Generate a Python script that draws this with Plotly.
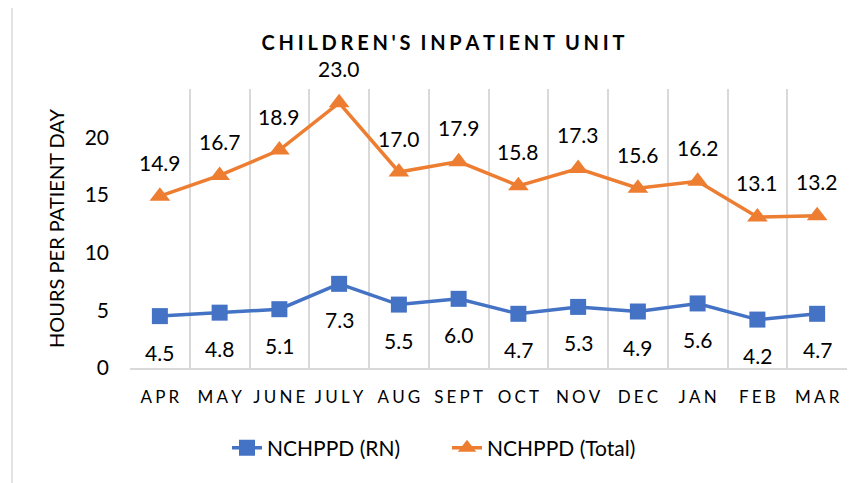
import plotly.graph_objects as go

months = ["APR", "MAY", "JUNE", "JULY", "AUG", "SEPT", "OCT", "NOV", "DEC", "JAN", "FEB", "MAR"]
rn = [4.5, 4.8, 5.1, 7.3, 5.5, 6.0, 4.7, 5.3, 4.9, 5.6, 4.2, 4.7]
total = [14.9, 16.7, 18.9, 23.0, 17.0, 17.9, 15.8, 17.3, 15.6, 16.2, 13.1, 13.2]
y_ticks = [0, 5, 10, 15, 20]

FONT = "Lato, Carlito, 'Open Sans', sans-serif"
GAP = "\u2009\u200a"

def spaced(s, sep=GAP):
    return sep.join(list(s))

tick_text = [spaced(m) for m in months]

BLUE = "#4472C4"
ORANGE = "#ED7D31"

fig = go.Figure()
fig.add_trace(go.Scatter(
    x=months, y=rn, mode="lines+markers", name="NCHPPD (RN)",
    line=dict(color=BLUE, width=3.5),
    marker=dict(symbol="square", size=16, color=BLUE),
))
fig.add_trace(go.Scatter(
    x=months, y=total, mode="lines+markers", name="NCHPPD (Total)",
    line=dict(color=ORANGE, width=3.5),
    marker=dict(symbol="triangle-up", size=18, color=ORANGE),
))

annotations = []
for m, v in zip(months, total):
    annotations.append(dict(x=m, y=v, text=f"{v:.1f}", showarrow=False,
                            yshift=34, font=dict(family=FONT, size=21, color="#000")))
for m, v in zip(months, rn):
    annotations.append(dict(x=m, y=v, text=f"{v:.1f}", showarrow=False,
                            yshift=-36, font=dict(family=FONT, size=21, color="#000")))

# page body has an 8px margin; target plot area in screenshot: x 130..847, y 89..368
OFF = 8
W, H = 865, 483
L = 130 - OFF
T = 89 - OFF
pw, ph = 717, 279
R = W - L - pw
B = H - T - ph

def px_x(x):
    return (x - OFF - L) / pw

def px_y(y):
    return (T + ph - (y - OFF)) / ph

def cx(x):
    return (x - OFF) / W

def cy(y):
    return 1 - (y - OFF) / H

shapes = [dict(type="rect", xref="paper", yref="paper",
               x0=px_x(12), x1=px_x(880), y0=px_y(500), y1=px_y(7),
               line=dict(color="#D9D9D9", width=1.5), fillcolor="rgba(0,0,0,0)", layer="below")]

fig.update_layout(
    width=W, height=H,
    margin=dict(l=L, r=R, t=T, b=B, autoexpand=False),
    paper_bgcolor="white", plot_bgcolor="white",
    font=dict(family=FONT, color="#000"),
    title=dict(text="<b>" + spaced("CHILDREN'S") + "\u2002" + spaced("INPATIENT")
               + "\u2002" + spaced("UNIT") + "</b>",
               xref="container", yref="container",
               x=cx(443), xanchor="center", y=cy(43), yanchor="middle",
               font=dict(family=FONT, size=20, color="#000")),
    showlegend=True,
    legend=dict(orientation="h", xref="container", yref="container",
                x=cx(447), xanchor="center", y=cy(448), yanchor="middle",
                font=dict(family=FONT, size=21, color="#000"), tracegroupgap=0,
                entrywidth=175),
    annotations=annotations,
    shapes=shapes,
)

fig.update_xaxes(
    type="category", tickmode="array", tickvals=months, ticktext=tick_text,
    tickson="boundaries", showgrid=True, gridcolor="#D9D9D9", gridwidth=1.5,
    showline=True, linecolor="#D9D9D9", linewidth=1.5,
    ticks="", ticklabelstandoff=13, automargin=False, tickangle=0,
    tickfont=dict(family=FONT, size=17, color="#000"),
    range=[-0.5, 11.5], mirror=False,
)
fig.update_yaxes(
    range=[0, 24.2], tickmode="array", tickvals=y_ticks, ticktext=[str(t) for t in y_ticks],
    showgrid=False, zeroline=False, showline=False, ticks="",
    ticklabelstandoff=20, automargin=False,
    tickfont=dict(family=FONT, size=21, color="#000"),
    title=dict(text="HOURS PER PATIENT DAY", font=dict(family=FONT, size=20, color="#000"), standoff=14),
)

fig.write_html("out.html")
